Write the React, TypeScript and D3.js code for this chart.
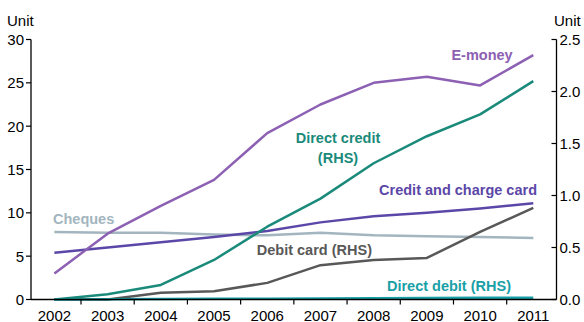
import React from "react";
import * as d3 from "d3";

const years = [2002, 2003, 2004, 2005, 2006, 2007, 2008, 2009, 2010, 2011];
const eMoney = [3.0, 7.6, 10.8, 13.8, 19.2, 22.5, 25.0, 25.7, 24.7, 28.2];
const creditCard = [5.4, 6.0, 6.6, 7.2, 7.9, 8.9, 9.6, 10.0, 10.5, 11.1];
const cheques = [7.8, 7.7, 7.7, 7.5, 7.4, 7.7, 7.4, 7.3, 7.2, 7.1];
const directCredit = [0.0, 0.05, 0.14, 0.38, 0.7, 0.97, 1.31, 1.57, 1.78, 2.1];
const debitCard = [0.0, 0.0, 0.065, 0.08, 0.16, 0.33, 0.38, 0.4, 0.65, 0.88];
const directDebit = [0.0, 0.003, 0.005, 0.007, 0.008, 0.01, 0.012, 0.014, 0.016, 0.018];
const leftTicks = [0, 5, 10, 15, 20, 25, 30];
const rightTicks = [0, 0.5, 1.0, 1.5, 2.0, 2.5];

const FONT = "'Liberation Sans', Arial, sans-serif";

export default function App() {
  const W = 584, H = 322;
  const axL = 31, axR = 556.5, y0 = 299.5, yTop = 39.5;
  const x = d3.scaleLinear().domain([2002, 2011]).range([54.4, 533.3]);
  const yL = d3.scaleLinear().domain([0, 30]).range([y0, yTop]);
  const yR = d3.scaleLinear().domain([0, 2.5]).range([y0, yTop]);
  const line = (vals: number[], sc: d3.ScaleLinear<number, number>) =>
    d3.line<number>().x((_, i) => x(years[i])).y((v) => sc(v))(vals) || "";

  const series = [
    { vals: cheques, sc: yL, color: "#a3b5be" },
    { vals: creditCard, sc: yL, color: "#5b47a7" },
    { vals: eMoney, sc: yL, color: "#8c60b3" },
    { vals: debitCard, sc: yR, color: "#585858" },
    { vals: directCredit, sc: yR, color: "#1a8a7a" },
    { vals: directDebit, sc: yR, color: "#19a0a7" },
  ];

  return (
    <svg width={W} height={H} style={{ position: "absolute", left: 0, top: 0 }} fontFamily={FONT}>
      <rect width={W} height={H} fill="#fff" />
      {series.map((s, i) => (
        <path key={i} d={line(s.vals, s.sc)} fill="none" stroke={s.color} strokeWidth={2.5} strokeLinejoin="round" />
      ))}
      {/* axes */}
      <line x1={axL} x2={axL} y1={yTop} y2={y0} stroke="#000" strokeWidth={1.3} />
      <line x1={axR} x2={axR} y1={yTop} y2={y0} stroke="#000" strokeWidth={1.3} />
      <line x1={axL} x2={axR} y1={y0} y2={y0} stroke="#000" strokeWidth={1.3} />
      {leftTicks.map((t) => (
        <g key={"l" + t}>
          <line x1={axL - 5} x2={axL} y1={yL(t)} y2={yL(t)} stroke="#000" strokeWidth={1.2} />
          <text x={axL - 7} y={yL(t)} dy="0.36em" textAnchor="end" fontSize={15} fill="#000">{t}</text>
        </g>
      ))}
      {rightTicks.map((t) => (
        <g key={"r" + t}>
          <line x1={axR - 5} x2={axR} y1={yR(t)} y2={yR(t)} stroke="#000" strokeWidth={1.2} />
          <text x={axR + 3} y={yR(t)} dy="0.36em" textAnchor="start" fontSize={15} fill="#000">{t.toFixed(1)}</text>
        </g>
      ))}
      {years.slice(0, -1).map((yr) => (
        <line key={"xt" + yr} x1={x(yr + 0.5)} x2={x(yr + 0.5)} y1={y0} y2={y0 + 5} stroke="#000" strokeWidth={1.2} />
      ))}
      {years.map((yr) => (
        <text key={"xl" + yr} x={x(yr)} y={320.5} textAnchor="middle" fontSize={15} fill="#000">{yr}</text>
      ))}
      <text x={7} y={25.5} fontSize={15} fill="#000">Unit</text>
      <text x={554} y={25.5} fontSize={15} fill="#000">Unit</text>
      {/* series labels */}
      <g fontWeight="bold" fontSize={14.5}>
        <text x={482} y={59.5} textAnchor="middle" fill="#8c60b3">E-money</text>
        <text x={338} y={143} textAnchor="middle" fill="#1a8a7a">Direct credit</text>
        <text x={338} y={163} textAnchor="middle" fill="#1a8a7a">(RHS)</text>
        <text x={537} y={194.5} textAnchor="end" fill="#5b47a7">Credit and charge card</text>
        <text x={53} y={223.5} fill="#a3b5be">Cheques</text>
        <text x={372} y={254.5} textAnchor="end" fill="#585858">Debit card (RHS)</text>
        <text x={511} y={291} textAnchor="end" fill="#19a0a7">Direct debit (RHS)</text>
      </g>
    </svg>
  );
}
